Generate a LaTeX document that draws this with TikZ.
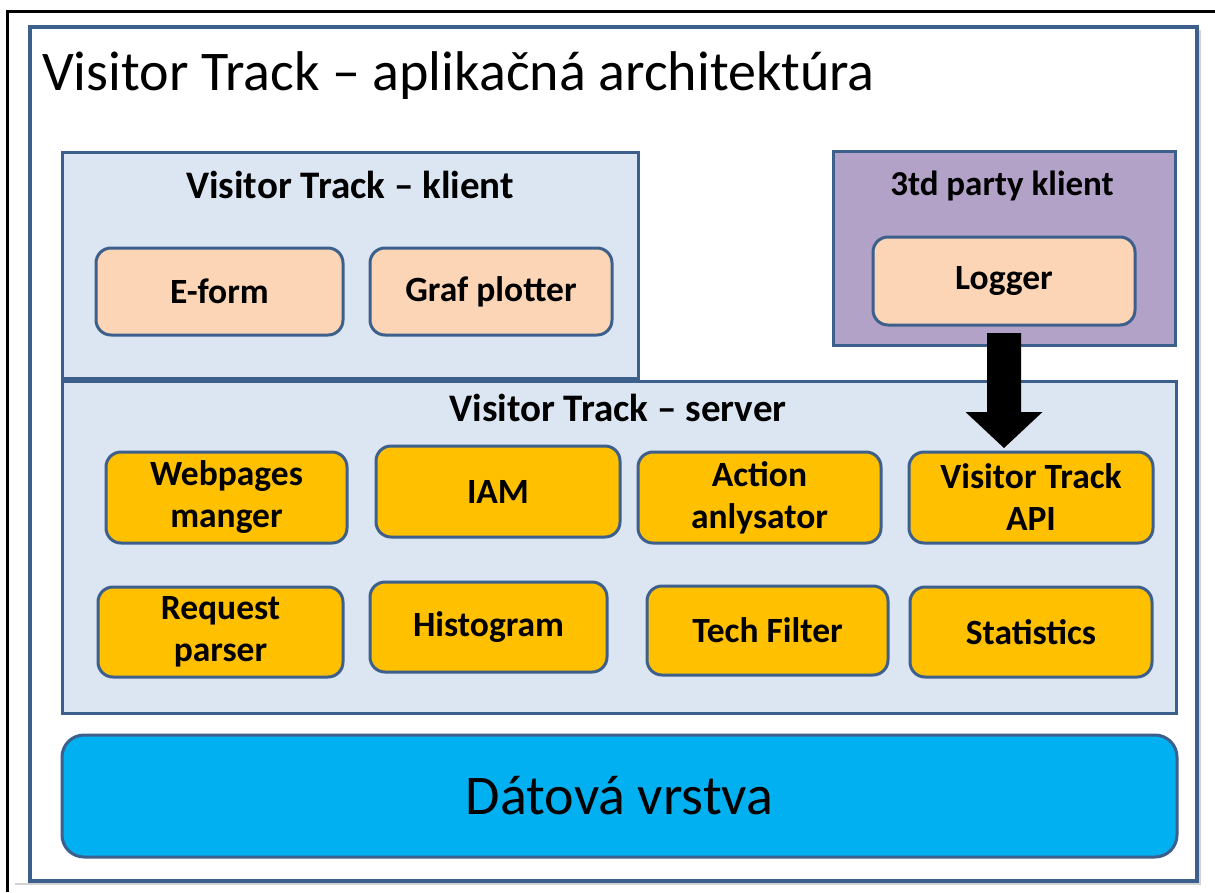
\documentclass[tikz,border=0pt]{standalone}
\usepackage{fontspec}
\setmainfont{Carlito}
\usetikzlibrary{calc}

\definecolor{edgeblue}{HTML}{3C5F8C}
\definecolor{panelfill}{HTML}{DCE6F2}
\definecolor{peach}{HTML}{FBD5B5}
\definecolor{lilac}{HTML}{B3A2C7}
\definecolor{amber}{HTML}{FFC000}
\definecolor{skyblue}{HTML}{00B0F0}

\begin{document}
\begin{tikzpicture}[x=1pt,y=-1pt,
  panel/.style={draw=edgeblue, line width=3pt, fill=panelfill,
    anchor=north west, inner sep=0pt, outer sep=0pt},
  comp/.style={draw=edgeblue, line width=3pt, rounded corners=15pt,
    align=center, inner sep=0pt, outer sep=0pt,
    font=\fontsize{35.5}{42}\selectfont\bfseries},
  panelhead/.style={anchor=base, inner sep=0pt,
    font=\fontsize{39}{45}\selectfont\bfseries}
]
\useasboundingbox (0,0) rectangle (1215,892);

% page frame
\draw[line width=3pt] (7.5,892) -- (7.5,11) -- (1215,11);

% slide frame with its soft shadow
\draw[gray!35, line width=2.5pt] (15,884) -- (1200,884) -- (1200,30);
\draw[edgeblue, line width=3.5pt, fill=white] (30,27) rectangle (1197,881);

\node[anchor=base west, inner sep=0pt, font=\fontsize{56}{62}\selectfont]
  (title) at (42,90) {Visitor Track – aplikačná architektúra};

% client panel
\node[panel, minimum width=576pt, minimum height=226pt] (client) at (62,152) {};
\node[panelhead] (clienthead) at (350,198) {Visitor Track – klient};
\node[comp, fill=peach, minimum width=247pt, minimum height=87pt] (eform) at (219.5,291.5) {E-form};
\node[comp, fill=peach, minimum width=242pt, minimum height=87pt] (graf) at (491,291.5) {Graf plotter};

% third party client panel
\node[panel, fill=lilac, minimum width=342pt, minimum height=194pt] (third) at (833,151) {};
\node[panelhead, font=\fontsize{35}{41}\selectfont\bfseries] (thirdhead) at (1002,195) {3td party klient};
\node[comp, fill=peach, minimum width=262pt, minimum height=88pt] (logger) at (1004,281) {Logger};

% server panel
\node[panel, minimum width=1114pt, minimum height=332pt] (server) at (62,381) {};
\node[panelhead] (serverhead) at (618,421) {Visitor Track – server};

\node[comp, fill=amber, minimum width=241pt, minimum height=91pt] (web) at (226.5,497.5) {Webpages\\manger};
\node[comp, fill=amber, minimum width=244pt, minimum height=91pt] (iam) at (498,491.5) {IAM};
\node[comp, fill=amber, minimum width=243pt, minimum height=91pt] (action) at (759.5,497.5) {Action\\anlysator};
\node[comp, fill=amber, minimum width=244pt, minimum height=91pt] (api) at (1031,497.5) {Visitor Track\\API};

\node[comp, fill=amber, minimum width=245pt, minimum height=90pt] (req) at (220.5,632) {Request\\parser};
\node[comp, fill=amber, minimum width=237pt, minimum height=90pt] (hist) at (488.5,627) {Histogram};
\node[comp, fill=amber, minimum width=241pt, minimum height=89pt] (tech) at (767.5,630.5) {Tech Filter};
\node[comp, fill=amber, minimum width=242pt, minimum height=90pt] (stat) at (1031,632) {Statistics};

% data layer
\node[draw=edgeblue, line width=3pt, fill=skyblue, rounded corners=22pt,
  minimum width=1115pt, minimum height=122pt, inner sep=0pt,
  font=\fontsize{56}{62}\selectfont] (data) at (619.5,796) {Dátová vrstva};

% block arrow from the logger to the API
\coordinate (astart) at ([yshift=-8pt]logger.south);
\coordinate (atip) at ([yshift=4pt]api.north -| logger.south);
\fill[black] ($(astart)+(-17,0)$) -- ($(astart)+(17,0)$)
  -- ($(atip)+(17,-36)$) -- ($(atip)+(38.5,-36)$) -- (atip)
  -- ($(atip)+(-38.5,-36)$) -- ($(atip)+(-17,-36)$) -- cycle;
\end{tikzpicture}
\end{document}
